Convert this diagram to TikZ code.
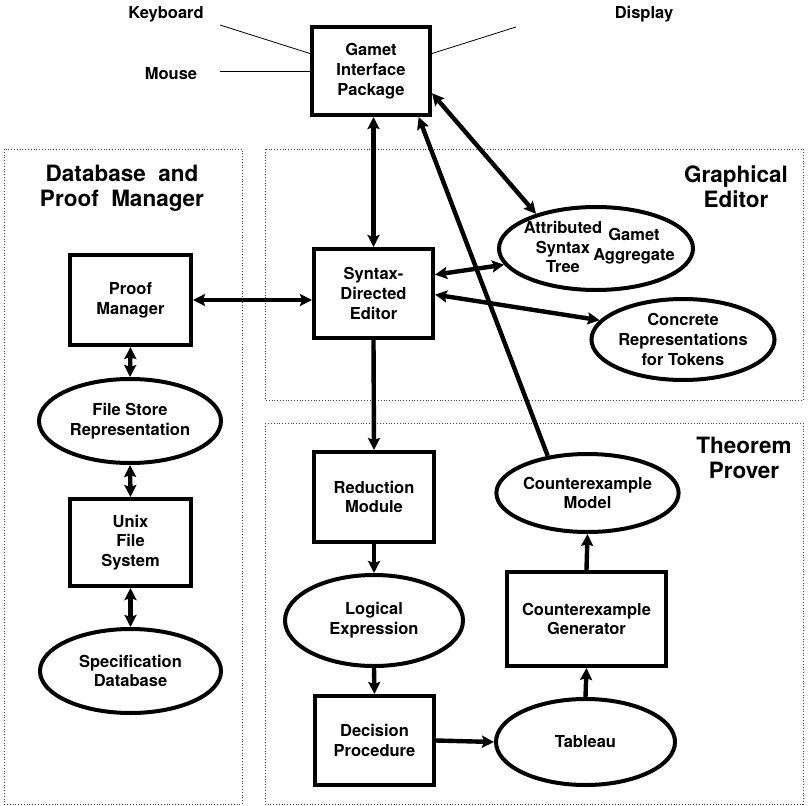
\documentclass[tikz,border=0pt]{standalone}
\usepackage{fontspec}
\setmainfont{TeX Gyre Heros}
\usetikzlibrary{arrows.meta,shapes.geometric}
\begin{document}
\begin{tikzpicture}[x=1pt,y=-1pt,
  nodefont/.style={font=\fontsize{16.5}{19.8}\selectfont\bfseries},
  titlefont/.style={font=\fontsize{22.5}{25}\selectfont\bfseries},
  boxnode/.style={draw, line width=4pt, rectangle, inner sep=0pt, align=center, nodefont},
  ellnode/.style={draw, line width=4pt, ellipse, inner sep=0pt, align=center, nodefont},
  txt/.style={inner sep=0pt, align=center, nodefont},
  region/.style={draw=black!75, dotted, line width=0.8pt},
  thinline/.style={line width=0.8pt},
  tip/.tip={Stealth[length=12pt,width=12pt,inset=2pt]},
  onearrow/.style={line width=4.4pt, -tip},
  twoarrow/.style={line width=4.4pt, tip-tip}
]
\useasboundingbox (0,0) rectangle (809,806);

% regions
\draw[region] (4,149) rectangle (242,804);
\draw[region] (265,149) rectangle (803,400);
\draw[region] (265,423) rectangle (803,804);

% region titles
\node[txt, titlefont] (tdb) at (122,188) {Database\ \ and\\Proof\ \ Manager};
\node[txt, titlefont] (tge) at (736,187) {Graphical\\Editor};
\node[txt, titlefont] (ttp) at (744,458) {Theorem\\Prover};

% I/O labels
\node[txt] (kbd) at (166,14) {Keyboard};
\node[txt] (mouse) at (171,74) {Mouse};
\node[txt] (disp) at (644,14) {Display};
\coordinate (kbdend) at (220,25);
\coordinate (mouseend) at (220,71);
\coordinate (dispend) at (516,27);

% boxes
\node[boxnode, minimum width=118pt, minimum height=88pt] (gip) at (371,71) {Gamet\\Interface\\Package};
\node[boxnode, minimum width=121pt, minimum height=90pt] (pm) at (130.5,300) {Proof\\Manager};
\node[boxnode, minimum width=121pt, minimum height=87pt] (ufs) at (130.5,542.5) {Unix\\File\\System};
\node[boxnode, minimum width=119pt, minimum height=89pt] (sde) at (373.5,293.5) {Syntax-\\Directed\\Editor};
\node[boxnode, minimum width=120pt, minimum height=90pt] (rm) at (374,497) {Reduction\\Module};
\node[boxnode, minimum width=119pt, minimum height=89pt] (dp) at (374.5,740.5) {Decision\\Procedure};
\node[boxnode, minimum width=159pt, minimum height=94pt] (ceg) at (586.5,619) {Counterexample\\Generator};

% ellipses
\node[ellnode, minimum width=182pt, minimum height=84pt] (fs) at (130,421) {File Store\\Representation};
\node[ellnode, minimum width=181pt, minimum height=84pt] (sdb) at (130.5,671) {Specification\\Database};
\node[ellnode, minimum width=194pt, minimum height=83pt] (ast) at (596,248.5) {};
\node[txt] (astA) at (563,247) {Attributed\\Syntax\\Tree};
\node[txt] (astB) at (634,246.5) {Gamet\\Aggregate};
\node[ellnode, minimum width=156pt, minimum height=81pt] (crt) at (683,339.5) {Concrete\\Representations\\for Tokens};
\node[ellnode, minimum width=178pt, minimum height=91pt] (le) at (374,620.5) {Logical\\Expression};
\node[ellnode, minimum width=179pt, minimum height=86pt] (tab) at (585.5,742) {Tableau};
\node[ellnode, minimum width=181pt, minimum height=78pt] (cem) at (587.5,493) {Counterexample\\Model};

% thin I/O lines
\draw[thinline] (kbdend) -- (gip.164);
\draw[thinline] (mouseend) -- (gip.west);
\draw[thinline] (gip.16) -- (dispend);

% connectors
\draw[twoarrow] (sde.north |- gip.south) -- (sde.north);
\draw[twoarrow] (gip.-20) -- (ast.150);
\draw[onearrow] (cem.137) -- (gip.-44);
\draw[twoarrow] (sde.17) -- (ast.190);
\draw[twoarrow] (sde.-1) -- (crt.167);
\draw[twoarrow] (pm.east) -- (pm.east -| sde.west);
\draw[twoarrow] (pm.south) -- (fs.north);
\draw[twoarrow] (fs.south) -- (ufs.north);
\draw[twoarrow] (ufs.south) -- (sdb.north);
\draw[onearrow] (sde.south) -- (rm.north);
\draw[onearrow] (rm.south) -- (le.north);
\draw[onearrow] (le.south) -- (dp.north);
\draw[onearrow] (dp.east) -- (tab.west);
\draw[onearrow] (tab.north) -- (ceg.south);
\draw[onearrow] (ceg.north) -- (cem.south);
\end{tikzpicture}
\end{document}
